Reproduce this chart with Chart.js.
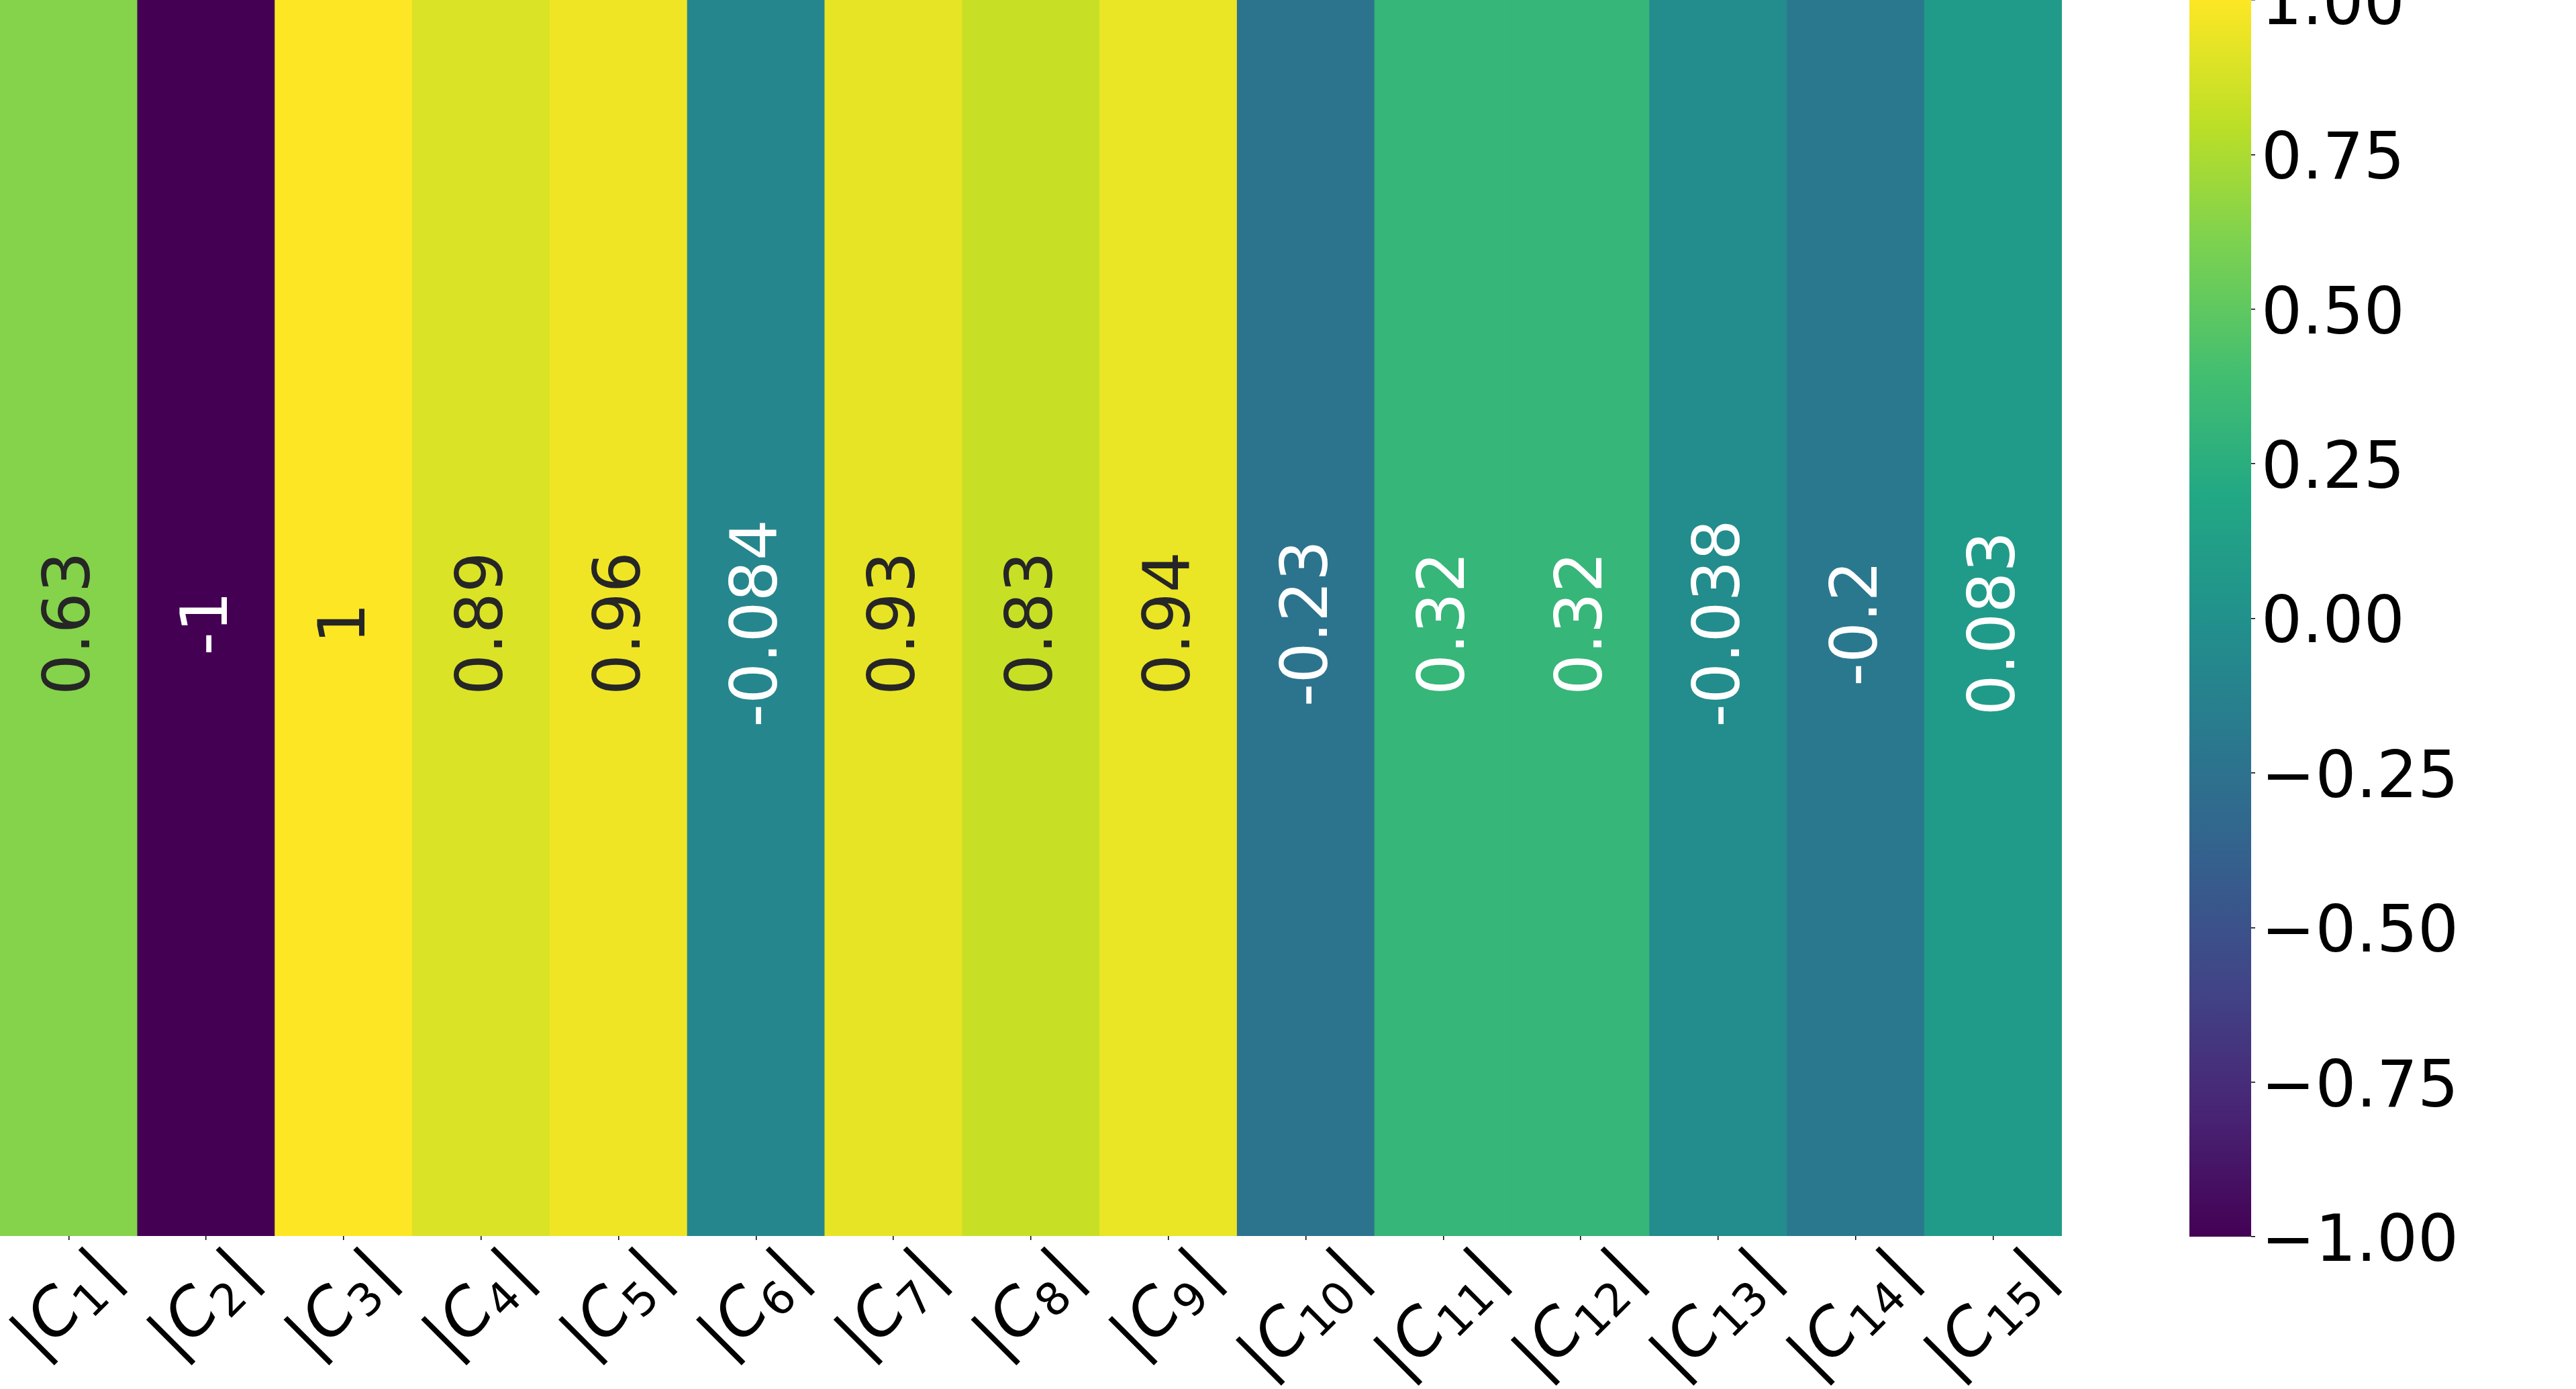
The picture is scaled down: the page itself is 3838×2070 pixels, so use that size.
<!DOCTYPE html>
<html><head><meta charset="utf-8">
<script src="https://cdn.jsdelivr.net/npm/chart.js@4.4.1/dist/chart.umd.min.js"></script>
<style>
html,body{margin:0;padding:0;background:#fff;width:3838px;height:2070px;overflow:hidden;}
#heat{position:absolute;left:0;top:0;width:3072px;height:2070px;}
#cbar{position:absolute;left:3262px;top:0;width:576px;height:2070px;}
</style></head><body>
<canvas id="heat" width="3072" height="2070"></canvas>
<canvas id="cbar" width="576" height="2070"></canvas>
<script>
// ---- data ----
const categories = ['|C_1|','|C_2|','|C_3|','|C_4|','|C_5|','|C_6|','|C_7|','|C_8|','|C_9|','|C_10|','|C_11|','|C_12|','|C_13|','|C_14|','|C_15|'];
const values = [0.63, -1, 1, 0.89, 0.96, -0.084, 0.93, 0.83, 0.94, -0.23, 0.32, 0.32, -0.038, -0.2, 0.083];
const colorbarTicks = [-1, -0.75, -0.5, -0.25, 0, 0.25, 0.5, 0.75, 1];
const vmin = -1, vmax = 1;
const rowSpan = [0, 1];

// ---- viridis colormap ----
const viridisStops = ['#440154','#482475','#414487','#355f8d','#2a788e','#21918c','#22a884','#44bf70','#7ad151','#bddf26','#fde725'];
function hexToRgb(h){return [parseInt(h.slice(1,3),16),parseInt(h.slice(3,5),16),parseInt(h.slice(5,7),16)];}
function viridis(v){
  let t = (v - vmin) / (vmax - vmin); t = Math.max(0, Math.min(1, t));
  const p = t * (viridisStops.length - 1); const i = Math.min(Math.floor(p), viridisStops.length - 2); const f = p - i;
  const a = hexToRgb(viridisStops[i]), b = hexToRgb(viridisStops[i+1]);
  return a.map((c,k)=>Math.round(c + (b[k]-c)*f));
}
function rgbStr(c){return `rgb(${c[0]},${c[1]},${c[2]})`;}
function lum(c){
  const l = c.map(x=>{x/=255;return x<=0.03928?x/12.92:Math.pow((x+0.055)/1.055,2.4);});
  return 0.2126*l[0]+0.7152*l[1]+0.0722*l[2];
}
function fmt(v){return String(Number(v.toPrecision(2)));}

const FONT = '"DejaVu Sans"';

const annotatePlugin = {
  id: 'annot',
  afterDatasetsDraw(chart){
    const ctx = chart.ctx, meta = chart.getDatasetMeta(0), y = chart.scales.y;
    const cy = (y.getPixelForValue(rowSpan[0]) + y.getPixelForValue(rowSpan[1])) / 2 + 8;
    ctx.save();
    ctx.font = `96px ${FONT}`;
    ctx.textAlign = 'center'; ctx.textBaseline = 'alphabetic';
    meta.data.forEach((bar, i) => {
      const v = values[i];
      ctx.save();
      ctx.translate(bar.x + 31, cy);
      ctx.rotate(-Math.PI/2);
      ctx.fillStyle = lum(viridis(v)) > 0.408 ? '#262626' : '#ffffff';
      ctx.fillText(fmt(v), 0, 0);
      ctx.restore();
    });
    ctx.restore();
  }
};

const xLabelPlugin = {
  id: 'xlab',
  afterDraw(chart){
    const ctx = chart.ctx, xs = chart.scales.x;
    const em = 96, subSize = Math.round(em*0.7);
    const top = chart.chartArea.bottom + 15;
    const s = Math.SQRT1_2;
    categories.forEach((lab, i) => {
      const m = /^\|(\w)_(\d+)\|$/.exec(lab);
      const base = m[1], sub = m[2];
      ctx.font = `${em}px ${FONT}`;
      const bar = ctx.measureText('|');
      ctx.font = `italic ${em}px ${FONT}`;
      const cW = ctx.measureText(base).width;
      ctx.font = `${subSize}px ${FONT}`;
      const sW = ctx.measureText(sub).width;
      const xC = bar.width, xS = xC + cW, xB2 = xS + sW + em*0.05;
      const u0 = -bar.actualBoundingBoxLeft;
      const u1 = xB2 + bar.actualBoundingBoxRight;
      const A = bar.actualBoundingBoxAscent, D = bar.actualBoundingBoxDescent;
      const tickX = xs.getPixelForTick(i);
      const ox = tickX - ((u0 - A) + (u1 + D)) * s / 2;
      const oy = top - (-A - u1) * s;
      ctx.save();
      ctx.translate(ox, oy); ctx.rotate(-Math.PI/4);
      ctx.fillStyle = '#000'; ctx.textBaseline = 'alphabetic'; ctx.textAlign = 'left';
      ctx.font = `${em}px ${FONT}`; ctx.fillText('|', 0, 0); ctx.fillText('|', xB2, 0);
      ctx.font = `italic ${em}px ${FONT}`; ctx.fillText(base, xC, 0);
      ctx.font = `${subSize}px ${FONT}`; ctx.fillText(sub, xS, em*0.15);
      ctx.restore();
    });
  }
};

new Chart(document.getElementById('heat'), {
  type: 'bar',
  data: {
    labels: categories,
    datasets: [{
      data: values.map(() => rowSpan),
      backgroundColor: values.map(v => rgbStr(viridis(v))),
      borderWidth: 0,
      barPercentage: 1,
      categoryPercentage: 1
    }]
  },
  options: {
    responsive: false, devicePixelRatio: 1, animation: false,
    layout: { padding: 0 },
    plugins: { legend: { display: false }, tooltip: { enabled: false } },
    scales: {
      x: {
        type: 'category', offset: true,
        grid: { offset: false, drawOnChartArea: false, drawTicks: true, tickLength: 6, tickColor: '#000', lineWidth: 1.5 },
        border: { display: false },
        ticks: { display: false },
        afterFit: sc => { sc.height = 228; sc.paddingLeft = 0; sc.paddingRight = 0; }
      },
      y: { display: false, min: rowSpan[0], max: rowSpan[1] }
    }
  },
  plugins: [annotatePlugin, xLabelPlugin]
});

new Chart(document.getElementById('cbar'), {
  type: 'bar',
  data: {
    labels: ['colorbar'],
    datasets: [{
      data: [[vmin, vmax]],
      backgroundColor: (c) => {
        const chart = c.chart; const ys = chart.scales.y;
        if (!chart.chartArea || !ys) return viridisStops[5];
        const g = chart.ctx.createLinearGradient(0, ys.getPixelForValue(vmin), 0, ys.getPixelForValue(vmax));
        viridisStops.forEach((col, k) => g.addColorStop(k/(viridisStops.length-1), col));
        return g;
      },
      borderWidth: 0,
      barPercentage: 1,
      categoryPercentage: 1
    }]
  },
  options: {
    responsive: false, devicePixelRatio: 1, animation: false,
    layout: { padding: { top: 0, bottom: 227, left: 0, right: 0 } },
    plugins: { legend: { display: false }, tooltip: { enabled: false } },
    scales: {
      x: { display: false },
      y: {
        position: 'right', min: vmin, max: vmax,
        afterBuildTicks: sc => { sc.ticks = colorbarTicks.map(v => ({ value: v })); },
        ticks: {
          font: { family: 'DejaVu Sans', size: 96 }, color: '#000', padding: 9, labelOffset: 11,
          callback: v => (v < 0 ? '\u2212' : '') + Math.abs(v).toFixed(2)
        },
        grid: { drawOnChartArea: false, drawTicks: true, tickLength: 6, tickColor: '#000', lineWidth: 1.5 },
        border: { display: false },
        afterFit: sc => { sc.width = 484; sc.paddingTop = 0; sc.paddingBottom = 0; }
      }
    }
  }
});
</script>
</body></html>
